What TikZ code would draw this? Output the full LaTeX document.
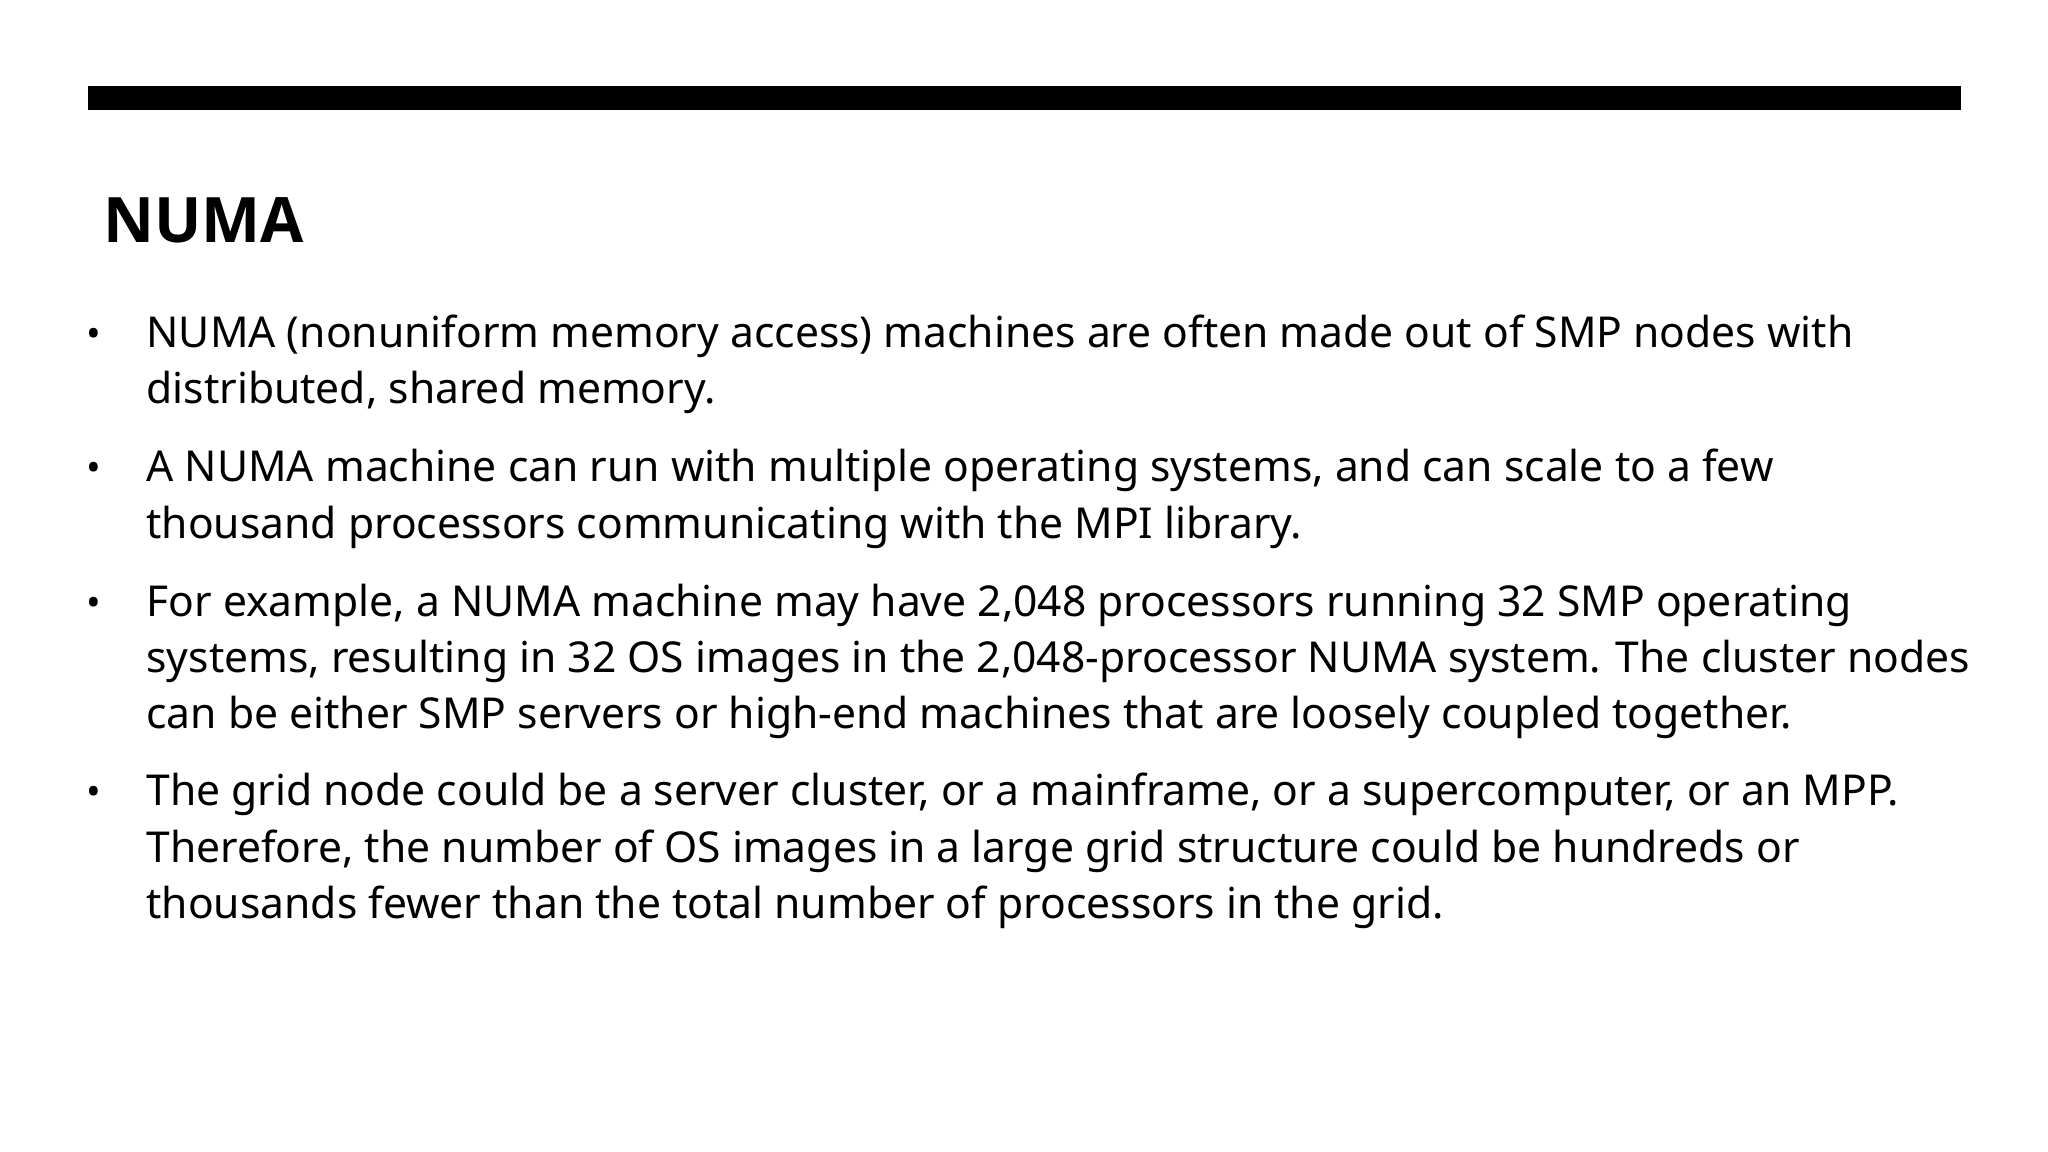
\documentclass[tikz,border=0pt]{standalone}
\usepackage{fontspec}
\setmainfont{Noto Sans}
\newfontfamily\titlefont{Open Sans}
\begin{document}
\begin{tikzpicture}[x=1pt,y=-1pt,
  ln/.style={anchor=base west,inner sep=0pt,font=\fontsize{32.6}{38}\selectfont},
  bul/.style={anchor=base,inner sep=0pt,font=\fontsize{30}{36}\selectfont}]
\useasboundingbox (0,0) rectangle (1568,882);
\fill[black] (67,66) rectangle (1501,84);
\node[anchor=base west,inner sep=0pt,font=\titlefont\fontsize{48}{58}\bfseries\selectfont] (title) at (79,186) {NUMA};
\foreach \y in {266,369,472,617} \node[bul] at (72,\y) {•};
\node[ln] (l1) at (112,266) {NUMA (nonuniform memory access) machines are often made out of SMP nodes with};
\node[ln] (l2) at (112,309) {distributed, shared memory.};
\node[ln] (l3) at (112,369) {A NUMA machine can run with multiple operating systems, and can scale to a few};
\node[ln] (l4) at (112,412) {thousand processors communicating with the MPI library.};
\node[ln] (l5) at (112,472) {For example, a NUMA machine may have 2,048 processors running 32 SMP operating};
\node[ln] (l6) at (112,515) {systems, resulting in 32 OS images in the 2,048-processor NUMA system. The cluster nodes};
\node[ln] (l7) at (112,558) {can be either SMP servers or high-end machines that are loosely coupled together.};
\node[ln] (l8) at (112,617) {The grid node could be a server cluster, or a mainframe, or a supercomputer, or an MPP.};
\node[ln] (l9) at (112,660) {Therefore, the number of OS images in a large grid structure could be hundreds or};
\node[ln] (l10) at (112,703) {thousands fewer than the total number of processors in the grid.};
\end{tikzpicture}
\end{document}
